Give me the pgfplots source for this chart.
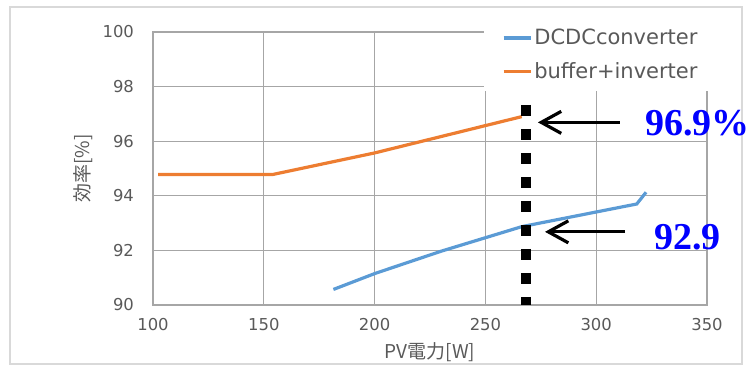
\documentclass[border=0pt]{standalone}
\usepackage{fontspec}
\setmainfont{DejaVu Sans}
\newfontfamily\cjk{Noto Sans CJK JP}
\newfontfamily\annfont{Liberation Serif}
\usepackage{pgfplots}
\pgfplotsset{compat=1.18}
\usetikzlibrary{arrows.meta}
\definecolor{xlblue}{HTML}{5B9BD5}
\definecolor{xlorange}{HTML}{ED7D31}
\definecolor{gridgray}{HTML}{A6A6A6}
\definecolor{textgray}{HTML}{595959}
\definecolor{framegray}{HTML}{D9D9D9}
\definecolor{annblue}{HTML}{0000FF}
\begin{document}
\begin{tikzpicture}
\path[use as bounding box] (-76.5pt,-30pt) rectangle (297pt,152.5pt);
\draw[framegray, line width=0.6pt] (-71.5pt,-29.5pt) rectangle (294.5pt,149pt);
\begin{axis}[
  scale only axis,
  width=277pt, height=136.5pt,
  xmin=100, xmax=350, ymin=90, ymax=100,
  xtick={100,150,...,350}, ytick={90,92,...,100},
  grid=major,
  grid style={gridgray, line width=0.6pt},
  axis line style={gridgray, line width=0.6pt},
  major tick length=0pt,
  clip=false,
  /pgf/number format/assume math mode=true,
  ticklabel style={font=\fontsize{8.2}{9.8}\selectfont, text=textgray},
  yticklabel style={xshift=-6pt},
  xticklabel style={yshift=-3pt},
  xlabel={{\cjk PV電力[W]}},
  ylabel={{\cjk 効率[\%]}},
  label style={font=\fontsize{9.5}{11}\selectfont, text=textgray},
  xlabel style={yshift=1pt},
  ylabel style={yshift=-2pt},
  legend style={
    at={(rel axis cs:0.597,1.05)}, anchor=north west,
    draw=none, fill=white,
    font=\fontsize{10.5}{12.6}\selectfont, text=textgray,
    inner xsep=9pt, inner ysep=3pt,
    row sep=3.5pt,
    nodes={inner xsep=1pt},
  },
  legend cell align=left,
  legend image code/.code={\draw[#1] (0pt,0pt) -- (13.5pt,0pt);},
]
\addplot[xlblue, line width=1.6pt] coordinates {
  (181.4,90.57) (200,91.15) (230,91.97) (266.4,92.87) (318.3,93.70) (322.5,94.13)
};
\addlegendentry{DCDCconverter}
\addplot[xlorange, line width=1.6pt] coordinates {
  (102.3,94.78) (154,94.78) (200,95.57) (266.4,96.90)
};
\addlegendentry{buffer+inverter}
\addplot[black, line width=5.2pt, dash pattern=on 5.6pt off 6.4pt, forget plot] coordinates {
  (268.3,97.33) (268.3,90)
};
\draw[black, line width=1.6pt, -{Straight Barb[length=10pt,width=11pt,line width=1.6pt]}]
  (axis cs:310.7,96.69) -- (axis cs:273.7,96.69);
\draw[black, line width=1.6pt, -{Straight Barb[length=10pt,width=11pt,line width=1.6pt]}]
  (axis cs:313,92.68) -- (axis cs:276.9,92.68);
\node[anchor=west, inner sep=0pt, text=annblue, font=\annfont\bfseries\fontsize{19}{21}\selectfont]
  at (axis cs:322,96.67) {96.9\%};
\node[anchor=west, inner sep=0pt, text=annblue, font=\annfont\bfseries\fontsize{19}{21}\selectfont]
  at (axis cs:326.1,92.49) {92.9};
\end{axis}
\end{tikzpicture}
\end{document}
